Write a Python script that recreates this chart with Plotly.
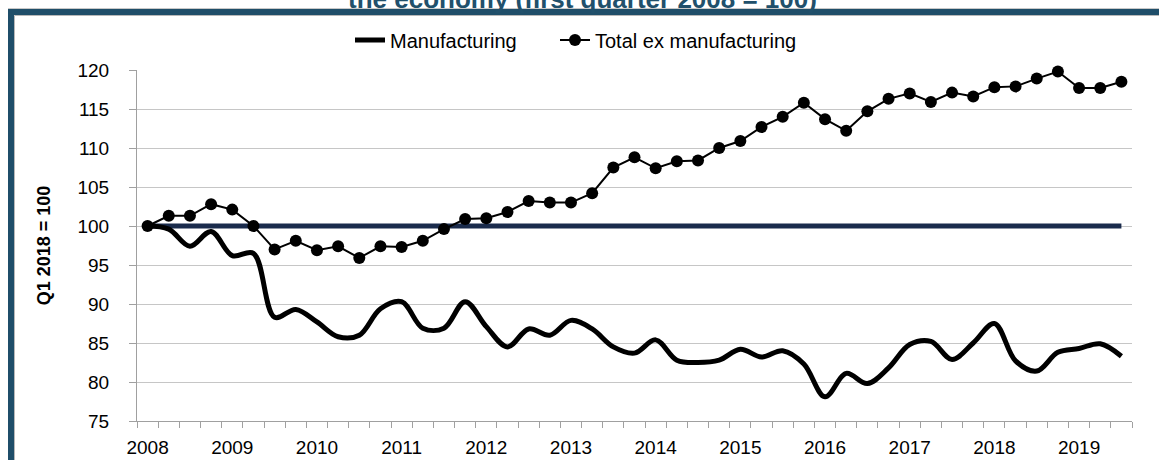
import plotly.graph_objects as go

quarters = [
    "2008 Q1", "2008 Q2", "2008 Q3", "2008 Q4",
    "2009 Q1", "2009 Q2", "2009 Q3", "2009 Q4",
    "2010 Q1", "2010 Q2", "2010 Q3", "2010 Q4",
    "2011 Q1", "2011 Q2", "2011 Q3", "2011 Q4",
    "2012 Q1", "2012 Q2", "2012 Q3", "2012 Q4",
    "2013 Q1", "2013 Q2", "2013 Q3", "2013 Q4",
    "2014 Q1", "2014 Q2", "2014 Q3", "2014 Q4",
    "2015 Q1", "2015 Q2", "2015 Q3", "2015 Q4",
    "2016 Q1", "2016 Q2", "2016 Q3", "2016 Q4",
    "2017 Q1", "2017 Q2", "2017 Q3", "2017 Q4",
    "2018 Q1", "2018 Q2", "2018 Q3", "2018 Q4",
    "2019 Q1", "2019 Q2", "2019 Q3",
]

tick_labels = {
    "2008 Q1": "2008", "2009 Q1": "2009", "2010 Q1": "2010", "2011 Q1": "2011",
    "2012 Q1": "2012", "2013 Q1": "2013", "2014 Q1": "2014", "2015 Q1": "2015",
    "2016 Q1": "2016", "2017 Q1": "2017", "2018 Q1": "2018", "2019 Q1": "2019",
}

manufacturing = [
    100.0, 99.6, 97.4, 99.3, 96.2, 96.5, 88.3, 89.3,
    87.7, 85.8, 86.0, 89.4, 90.3, 86.9, 86.9, 90.3,
    87.1, 84.5, 86.8, 86.0, 87.9, 86.8, 84.5, 83.7,
    85.4, 82.8, 82.5, 82.8, 84.2, 83.2, 84.0, 82.3,
    78.1, 81.1, 79.8, 81.8, 84.8, 85.2, 82.9, 85.0,
    87.5, 82.7, 81.4, 83.8, 84.3, 84.9, 83.3,
]

total_ex_manufacturing = [
    100.0, 101.3, 101.3, 102.8, 102.1, 100.0, 97.0, 98.1,
    96.9, 97.4, 95.9, 97.4, 97.3, 98.1, 99.6, 100.9,
    101.0, 101.8, 103.2, 103.0, 103.0, 104.2, 107.5, 108.8,
    107.4, 108.3, 108.4, 110.0, 110.9, 112.7, 114.0, 115.8,
    113.7, 112.2, 114.7, 116.3, 117.0, 115.9, 117.1, 116.6,
    117.8, 117.9, 118.9, 119.8, 117.7, 117.7, 118.5,
]

baseline = [100.0] * len(quarters)

FONT = "Liberation Sans, Arial, sans-serif"
W, H = 1159, 460
ML, MR, MT, MB = 137, 27, 70, 39
PW, PH = W - ML - MR, H - MT - MB


def px_x(p):
    return (p - ML) / PW


def px_y(p):
    return (H - MB - p) / PH


fig = go.Figure()

fig.add_trace(go.Scatter(
    x=quarters, y=baseline, mode="lines", showlegend=False,
    line=dict(color="#1a2b4c", width=5), hoverinfo="skip",
))
fig.add_trace(go.Scatter(
    x=quarters, y=manufacturing, mode="lines", name="Manufacturing",
    legend="legend",
    line=dict(color="#000000", width=5, shape="spline", smoothing=1.0),
))
fig.add_trace(go.Scatter(
    x=quarters, y=total_ex_manufacturing, mode="lines+markers",
    name="Total ex manufacturing", cliponaxis=False, legend="legend2",
    line=dict(color="#000000", width=2),
    marker=dict(color="#000000", size=12, symbol="circle"),
))

frame_color = "#1f4e69"
shapes = [
    dict(type="rect", xref="paper", yref="paper",
         x0=px_x(11), x1=px_x(1180), y0=px_y(485), y1=px_y(12),
         line=dict(color=frame_color, width=6), fillcolor="rgba(0,0,0,0)", layer="above"),
    dict(type="line", xref="paper", yref="paper",
         x0=px_x(14.5), x1=px_x(1180), y0=px_y(15.5), y1=px_y(15.5),
         line=dict(color="#b8b8b8", width=1)),
    dict(type="line", xref="paper", yref="paper",
         x0=px_x(14.5), x1=px_x(14.5), y0=px_y(15.5), y1=px_y(485),
         line=dict(color="#b8b8b8", width=1)),
    dict(type="line", xref="paper", yref="paper",
         x0=px_x(8), x1=px_x(1180), y0=px_y(8.5), y1=px_y(8.5),
         line=dict(color="#c8c8c8", width=1)),
]

legend_style = dict(
    orientation="h", xanchor="left", y=px_y(40), yanchor="middle",
    font=dict(family=FONT, size=20, color="#000000"),
    bgcolor="rgba(0,0,0,0)", itemwidth=30,
)

fig.update_layout(
    width=W, height=H,
    margin=dict(l=ML, r=MR, t=MT, b=MB, pad=0),
    paper_bgcolor="#ffffff", plot_bgcolor="#ffffff",
    font=dict(family=FONT, size=19, color="#000000"),
    shapes=shapes,
    showlegend=True,
    legend=dict(x=px_x(350), **legend_style),
    legend2=dict(x=px_x(555), **legend_style),
    annotations=[dict(
        text="<b>the economy (first quarter 2008 = 100)</b>",
        xref="paper", yref="paper", x=px_x(582), y=px_y(6),
        xanchor="center", yanchor="bottom", showarrow=False,
        font=dict(family=FONT, size=26, color="#21506b"),
        yshift=-10,
    )],
)

fig.update_xaxes(
    type="category", categoryorder="array", categoryarray=quarters,
    range=[-0.5, len(quarters) - 0.5],
    tickmode="array", tickvals=quarters,
    ticktext=[tick_labels.get(q, "") for q in quarters],
    tickson="boundaries", ticks="outside", ticklen=6, tickcolor="#a0a0a0", tickwidth=1,
    showline=True, linecolor="#a0a0a0", linewidth=1,
    showgrid=False, zeroline=False, automargin=False,
    tickangle=0, ticklabelstandoff=9,
    tickfont=dict(family=FONT, size=19, color="#000000"),
)

fig.update_yaxes(
    range=[75, 120], tickmode="linear", tick0=75, dtick=5,
    ticks="outside", ticklen=7, tickcolor="#a0a0a0", tickwidth=1,
    showline=True, linecolor="#a0a0a0", linewidth=1,
    showgrid=True, gridcolor="#c6c6c6", gridwidth=1,
    zeroline=False, automargin=False, ticklabelstandoff=16,
    tickfont=dict(family=FONT, size=19, color="#000000"),
    title=dict(text="<b>Q1 2018 = 100</b>", standoff=22,
               font=dict(family=FONT, size=18, color="#000000")),
)

fig.write_html(
    "out.html",
    config={"displayModeBar": False},
    post_script="document.body.style.margin='0px';document.body.style.overflow='hidden';",
)
